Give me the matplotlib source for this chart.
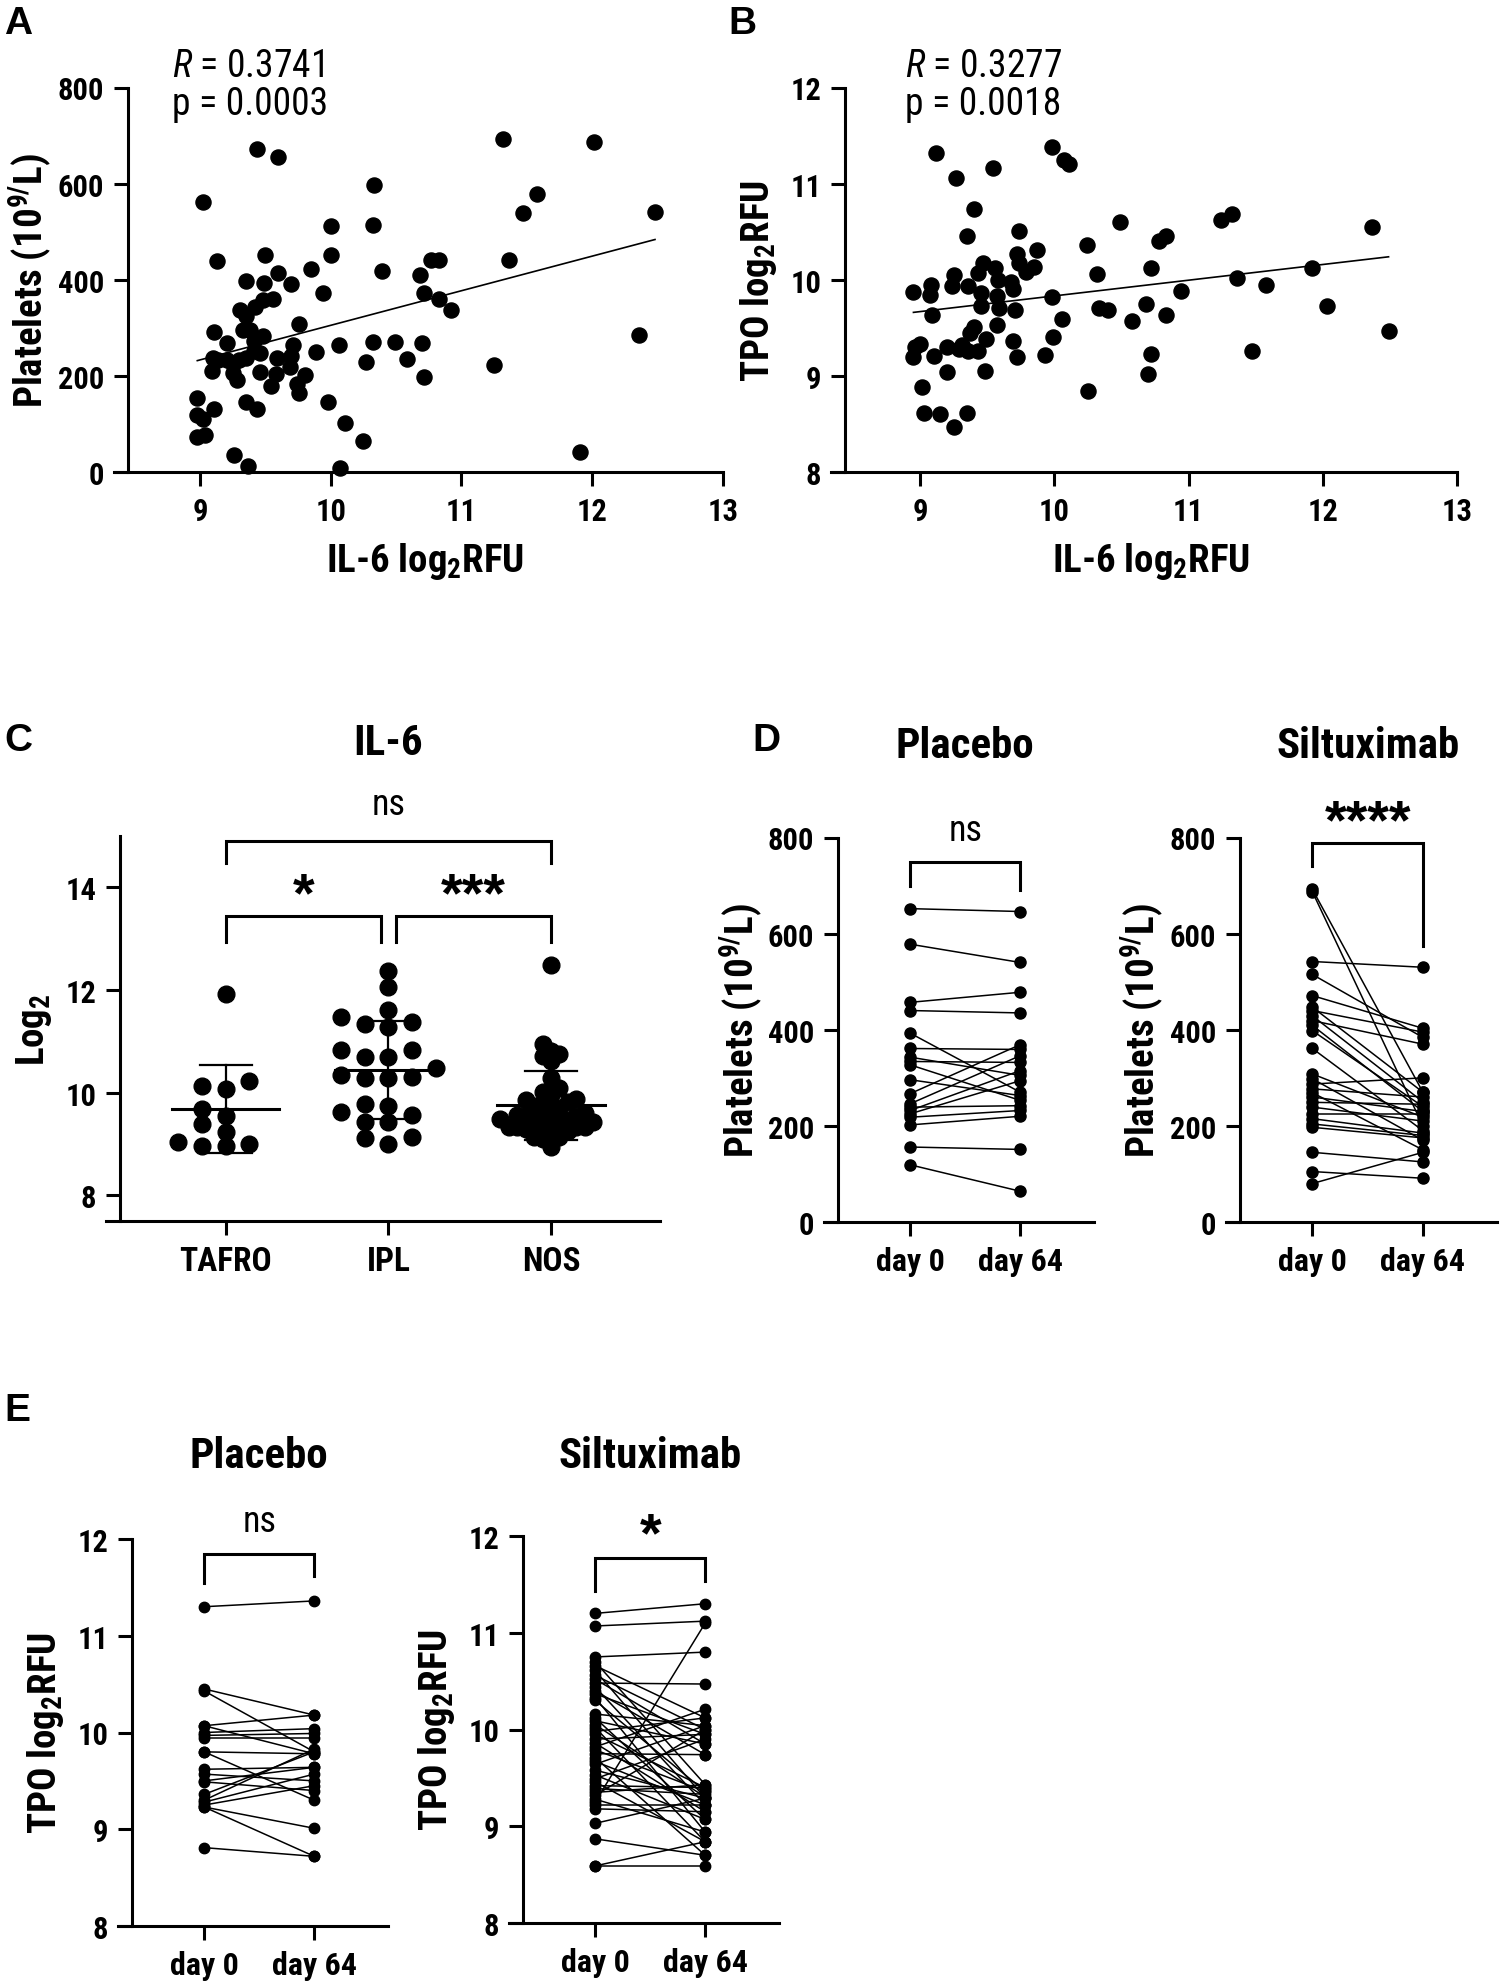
import numpy as np
import matplotlib
matplotlib.use('Agg')
import matplotlib.pyplot as plt

# ---- data ----
# A: IL-6 vs platelets
il6_a = [9.44, 9.60, 9.02, 11.32, 12.01, 10.33, 11.58, 11.47, 12.48, 10.00, 10.32, 9.13,
         9.50, 10.00, 9.85, 10.39, 10.77, 10.83, 11.36, 9.35, 9.49, 9.60, 9.70, 9.94,
         10.68, 10.71, 10.83, 10.92, 9.31, 9.35, 9.42, 9.48, 9.56, 9.76, 9.11, 9.33,
         9.38, 9.48, 9.41, 9.21, 9.41, 9.46, 9.71, 9.70, 9.59, 9.89, 10.06, 10.32,
         10.49, 10.70, 10.27, 10.58, 11.25, 12.36, 9.10, 9.14, 9.21, 9.25, 9.30, 9.35,
         9.09, 9.25, 9.28, 9.46, 9.58, 9.69, 9.80, 9.54, 9.74, 9.76, 10.71, 8.98,
         8.98, 9.02, 9.11, 9.35, 9.44, 8.98, 9.04, 9.98, 10.11, 10.25, 9.26, 9.37,
         10.07, 11.91]
plt_a = [673, 656, 561, 692, 686, 598, 578, 538, 542, 511, 513, 439,
         452, 452, 422, 419, 441, 441, 442, 398, 393, 414, 392, 372,
         410, 373, 360, 337, 337, 325, 343, 358, 360, 308, 291, 296,
         296, 282, 272, 268, 252, 247, 264, 241, 238, 250, 265, 270,
         270, 268, 229, 235, 222, 286, 237, 233, 233, 225, 233, 237,
         210, 206, 192, 208, 204, 218, 202, 179, 183, 165, 197, 155,
         118, 110, 132, 145, 131, 72, 78, 146, 102, 65, 35, 12,
         8, 41]

# B: IL-6 vs TPO
il6_b = [9.12, 9.27, 9.54, 9.98, 10.07, 10.11, 9.40, 9.35, 10.49, 11.24, 11.32, 12.37,
         9.74, 9.87, 10.24, 10.78, 10.83, 9.72, 9.47, 9.43, 9.25, 9.56, 9.74, 9.79,
         9.85, 10.32, 10.72, 11.92, 11.36, 11.58, 8.95, 9.08, 9.07, 9.24, 9.36, 9.45,
         9.58, 9.68, 9.69, 9.57, 9.59, 9.45, 9.71, 9.98, 10.33, 10.40, 10.68, 10.94,
         12.03, 9.09, 10.83, 10.06, 10.58, 9.57, 9.40, 9.37, 9.49, 9.99, 9.69, 12.49,
         8.96, 9.00, 8.95, 9.10, 9.20, 9.29, 9.31, 9.36, 9.43, 9.72, 9.93, 10.72,
         11.47, 9.20, 9.48, 10.70, 9.01, 9.03, 9.15, 9.35, 9.25, 10.25]
tpo_b = [11.32, 11.06, 11.16, 11.38, 11.25, 11.20, 10.74, 10.45, 10.60, 10.62, 10.68, 10.55,
         10.51, 10.31, 10.36, 10.40, 10.45, 10.27, 10.17, 10.07, 10.05, 10.12, 10.17, 10.08,
         10.13, 10.06, 10.12, 10.12, 10.02, 9.95, 9.87, 9.95, 9.84, 9.93, 9.94, 9.86,
         10.00, 9.98, 9.90, 9.83, 9.71, 9.73, 9.69, 9.82, 9.71, 9.69, 9.75, 9.88,
         9.73, 9.63, 9.63, 9.59, 9.57, 9.53, 9.51, 9.45, 9.38, 9.40, 9.36, 9.47,
         9.30, 9.33, 9.20, 9.21, 9.30, 9.28, 9.32, 9.26, 9.26, 9.20, 9.22, 9.23,
         9.26, 9.04, 9.05, 9.02, 8.88, 8.61, 8.60, 8.61, 8.47, 8.84]

# C: IL-6 by subtype
groups_c = ['TAFRO', 'IPL', 'NOS']
tafro = [11.93, 10.07, 10.13, 10.23, 9.54, 9.69, 9.38, 9.24, 8.97, 9.00, 9.03, 8.97]
ipl = [12.37, 12.05, 11.47, 11.37, 11.33, 11.62, 11.28, 10.83, 10.69, 10.48, 10.69, 10.83,
       10.31, 10.35, 10.29, 10.28, 9.74, 9.77, 9.62, 9.42, 9.43, 9.57, 9.00, 9.13, 9.12]
nos = [12.48, 10.95, 10.81, 10.75, 10.72, 10.61, 10.28, 10.09, 10.02, 9.95, 9.88, 9.81,
       9.85, 9.74, 9.71, 9.47, 9.33, 9.54, 9.60, 9.54, 9.57, 9.54, 9.49, 9.30, 9.33,
       9.26, 9.33, 9.30, 9.13, 9.17, 9.13, 9.10, 8.95, 9.40, 9.43, 9.43, 9.33, 9.43,
       9.71, 9.74]

# D: platelets day 0 vs day 64
days = ['day 0', 'day 64']
pla_plt0 = [652, 578, 457, 440, 393, 361, 343, 334, 327, 296, 267, 246, 239, 232, 225, 218, 202, 156, 119]
pla_plt64 = [646, 540, 478, 435, 270, 359, 305, 332, 253, 263, 369, 346, 242, 315, 294, 232, 220, 151, 64]
sil_plt0 = [692, 687, 542, 515, 471, 447, 440, 429, 419, 409, 398, 361, 308, 298,
            287, 277, 269, 260, 249, 239, 225, 215, 204, 197, 145, 105, 80]
sil_plt64 = [270, 200, 530, 384, 403, 270, 395, 250, 370, 230, 240, 190, 218, 170,
             300, 260, 150, 230, 245, 210, 225, 185, 180, 175, 125, 91, 145]

# E: TPO day 0 vs day 64
pla_tpo0 = [11.30, 10.45, 10.43, 10.07, 10.07, 10.00, 9.97, 9.94, 9.80, 9.80, 9.62,
            9.57, 9.50, 9.49, 9.36, 9.30, 9.28, 9.25, 9.23, 9.23, 8.81]
pla_tpo64 = [11.36, 10.18, 9.80, 10.18, 9.78, 10.04, 9.99, 9.94, 9.78, 9.30, 9.64,
             9.50, 9.64, 9.40, 9.80, 9.83, 9.57, 9.45, 9.01, 8.72, 8.72]
sil_tpo0 = [11.20, 11.07, 10.75, 10.70, 10.66, 10.61, 10.56, 10.52, 10.48, 10.44, 10.40,
            10.37, 10.33, 10.30, 10.16, 10.12, 10.09, 10.05, 10.02, 9.98, 9.95, 9.90,
            9.86, 9.82, 9.79, 9.75, 9.71, 9.67, 9.64, 9.58, 9.53, 9.49, 9.46, 9.42,
            9.39, 9.35, 9.32, 9.28, 9.25, 9.22, 9.18, 9.03, 8.87, 8.59, 8.59]
sil_tpo64 = [11.30, 11.12, 10.80, 9.43, 10.12, 9.29, 10.00, 9.85, 10.47, 9.22, 9.74,
             9.95, 8.94, 9.36, 10.04, 9.07, 9.85, 9.30, 8.84, 10.12, 9.40, 9.95,
             9.15, 10.21, 9.36, 9.74, 8.70, 9.22, 10.04, 9.29, 9.07, 9.90, 8.84, 9.40,
             9.33, 9.43, 10.00, 8.94, 11.10, 9.22, 9.15, 9.29, 8.70, 8.59, 8.84]

# condensed face close to the Arial Narrow of the original, with fallbacks
FAM = ['Roboto Condensed', 'Liberation Sans', 'DejaVu Sans']
plt.rcParams['font.family'] = FAM
plt.rcParams['font.weight'] = 'bold'
plt.rcParams['axes.labelweight'] = 'bold'
plt.rcParams['mathtext.fontset'] = 'custom'
plt.rcParams['mathtext.rm'] = 'Roboto Condensed:bold'
plt.rcParams['mathtext.it'] = 'Roboto Condensed:style=italic:weight=normal'
plt.rcParams['mathtext.default'] = 'rm'

W, H = 1500, 1983
fig = plt.figure(figsize=(W / 100, H / 100), dpi=100)

LW = 2.2
TICK = 22
LABEL = 28
TITLE = 31
STAR = ['Liberation Sans', 'DejaVu Sans']


def add_ax(l, t, r, b):
    return fig.add_axes([l / W, 1 - b / H, (r - l) / W, (b - t) / H])


def style(ax, xlim, ylim, yticks, px_w):
    ax.set_xlim(*xlim)
    ax.set_ylim(*ylim)
    ax.set_yticks(yticks)
    for s in ['top', 'right']:
        ax.spines[s].set_visible(False)
    for s in ['left', 'bottom']:
        ax.spines[s].set_linewidth(LW)
    # x-axis line runs a tick length past the y-axis, as in the original
    over = 14 * (xlim[1] - xlim[0]) / px_w
    ax.spines['bottom'].set_bounds(xlim[0] - over, xlim[1])
    ax.tick_params(width=LW, length=10, labelsize=TICK, direction='out', pad=7)


def bracket(ax, x0, x1, y, yl0, yl1):
    ax.plot([x0, x0, x1, x1], [yl0, y, y, yl1], color='k', lw=LW,
            clip_on=False, solid_joinstyle='miter')


def swarm(vals, step, gap):
    vals = np.asarray(vals)
    offs = np.zeros(len(vals))
    placed = []
    for i in np.argsort(vals):
        v = vals[i]
        for k in [0, -1, 1, -2, 2, -3, 3, -4, 4, -5, 5, -6, 6]:
            if all(abs(v - pv) >= gap for pk, pv in placed if pk == k):
                break
        placed.append((k, v))
        offs[i] = k * step
    return offs


def scatter_panel(ax, x, y, r, p, rx):
    x = np.asarray(x)
    y = np.asarray(y)
    ax.scatter(x, y, s=118, color='k', zorder=3, clip_on=False)
    m, c = np.polyfit(x, y, 1)
    xs = np.array([x.min(), x.max()])
    ax.plot(xs, m * xs + c, color='k', lw=1.2)
    ax.text(rx, 1.058, r'$\mathit{R}$ = ' + r, transform=ax.transAxes,
            fontsize=27, weight='normal', va='center')
    ax.text(rx, 0.958, 'p = ' + p, transform=ax.transAxes,
            fontsize=27, weight='normal', va='center')
    ax.set_xticks([9, 10, 11, 12, 13])
    ax.set_xlabel('IL-6 log$_2$RFU', fontsize=LABEL, labelpad=10)


# ---- A ----
axA = add_ax(128, 88.5, 723, 473)
style(axA, (8.45, 13), (0, 800), [0, 200, 400, 600, 800], 595)
scatter_panel(axA, il6_a, plt_a, '0.3741', '0.0003', 0.074)
axA.set_ylabel('Platelets (10$^{9/}$L)', fontsize=LABEL, labelpad=3)

# ---- B ----
axB = add_ax(845, 88.5, 1457, 473)
style(axB, (8.44, 13), (8, 12), [8, 9, 10, 11, 12], 612)
scatter_panel(axB, il6_b, tpo_b, '0.3277', '0.0018', 0.098)
axB.set_ylabel('TPO log$_2$RFU', fontsize=LABEL, labelpad=8)

# ---- C ----
axC = add_ax(120, 837, 660, 1222)
style(axC, (-0.65, 2.67), (7.5, 15), [8, 10, 12, 14], 540)
for i, vals in enumerate([tafro, ipl, nos]):
    if i == 2:
        offs = swarm(vals, 0.052, 0.2)
    else:
        offs = swarm(vals, 0.146, 0.26)
    axC.scatter(i + offs, vals, s=145, color='k', zorder=3)
    mu = np.mean(vals)
    sd = np.std(vals, ddof=1)
    axC.plot([i - 0.33, i + 0.33], [mu, mu], color='k', lw=2.2, zorder=4)
    axC.plot([i, i], [mu - sd, mu + sd], color='k', lw=1.6, zorder=4)
    for yy in (mu - sd, mu + sd):
        axC.plot([i - 0.16, i + 0.16], [yy, yy], color='k', lw=1.6, zorder=4)
axC.set_xticks(range(3))
axC.set_xticklabels(groups_c, fontsize=24)
axC.set_ylabel('Log$_2$', fontsize=LABEL, labelpad=8)
bracket(axC, 0, 2, 14.9, 14.47, 14.47)
bracket(axC, 0, 0.955, 13.44, 12.94, 12.94)
bracket(axC, 1.045, 2, 13.44, 12.94, 12.94)
axC.text(1, 15.42, 'ns', ha='center', va='baseline', fontsize=26, weight='normal')
axC.text(0.48, 13.55, '*', ha='center', va='baseline', fontsize=40, family=STAR)
axC.text(1.52, 13.55, '***', ha='center', va='baseline', fontsize=40, family=STAR)
axC.text(1, 15 + 93 / 51.3, 'IL-6', ha='center', va='center', fontsize=TITLE)


# ---- paired panels ----
def paired(ax, d0, d64, ms):
    for a, b in zip(d0, d64):
        ax.plot([0, 1], [a, b], color='k', lw=1.1, marker='o', ms=ms,
                mfc='k', mec='k', clip_on=False)
    ax.set_xticks([0, 1])
    ax.set_xticklabels(days, fontsize=23)


XL = (-0.655, 1.67)

axD1 = add_ax(838, 838.5, 1094, 1223)
style(axD1, XL, (0, 800), [0, 200, 400, 600, 800], 256)
paired(axD1, pla_plt0, pla_plt64, 8)
axD1.set_ylabel('Platelets (10$^{9/}$L)', fontsize=LABEL, labelpad=2)
bracket(axD1, 0, 1, 748, 700, 690)
axD1.text(0.5, 794, 'ns', ha='center', va='baseline', fontsize=26, weight='normal')
axD1.text(0.5, 1 + 92.5 / 384.5, 'Placebo', transform=axD1.get_xaxis_transform(),
          ha='center', va='center', fontsize=TITLE)

axD2 = add_ax(1240, 838.5, 1497, 1223)
style(axD2, XL, (0, 800), [0, 200, 400, 600, 800], 257)
paired(axD2, sil_plt0, sil_plt64, 8)
axD2.set_ylabel('Platelets (10$^{9/}$L)', fontsize=LABEL, labelpad=3)
bracket(axD2, 0, 1, 788, 740, 575)
axD2.text(0.5, 800, '****', ha='center', va='baseline', fontsize=40, family=STAR)
axD2.text(0.5, 1 + 92.5 / 384.5, 'Siltuximab', transform=axD2.get_xaxis_transform(),
          ha='center', va='center', fontsize=TITLE)

axE1 = add_ax(132, 1540, 388, 1927)
style(axE1, XL, (8, 12), [8, 9, 10, 11, 12], 256)
paired(axE1, pla_tpo0, pla_tpo64, 7.5)
axE1.set_ylabel('TPO log$_2$RFU', fontsize=LABEL, labelpad=8)
bracket(axE1, 0, 1, 11.85, 11.55, 11.62)
axE1.text(0.5, 12.08, 'ns', ha='center', va='baseline', fontsize=26, weight='normal')
axE1.text(0.5, 1 + 83 / 387, 'Placebo', transform=axE1.get_xaxis_transform(),
          ha='center', va='center', fontsize=TITLE)

axE2 = add_ax(523, 1537, 779, 1924)
style(axE2, XL, (8, 12), [8, 9, 10, 11, 12], 256)
paired(axE2, sil_tpo0, sil_tpo64, 7.5)
axE2.set_ylabel('TPO log$_2$RFU', fontsize=LABEL, labelpad=8)
bracket(axE2, 0, 1, 11.77, 11.43, 11.53)
axE2.text(0.5, 11.85, '*', ha='center', va='baseline', fontsize=40, family=STAR)
axE2.text(0.5, 1 + 80 / 387, 'Siltuximab', transform=axE2.get_xaxis_transform(),
          ha='center', va='center', fontsize=TITLE)

# panel letters
for lab, x, y in [('A', 4, 24), ('B', 728, 24), ('C', 4, 741), ('D', 752, 741), ('E', 4, 1411)]:
    fig.text(x / W, 1 - y / H, lab, ha='left', va='center', fontsize=28, weight='bold',
             family=STAR)

fig.savefig('out.png', dpi=100)
